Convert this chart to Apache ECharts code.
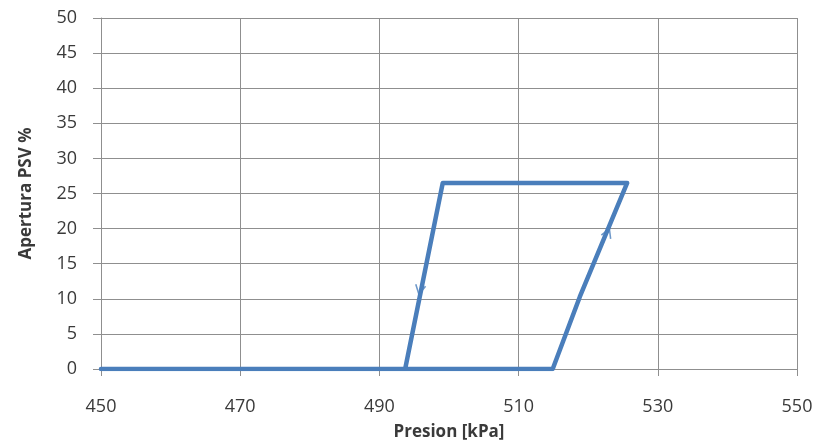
<!DOCTYPE html>
<html>
<head>
<meta charset="utf-8">
<script src="https://cdn.jsdelivr.net/npm/echarts@6/dist/echarts.min.js"></script>
<style>
  html, body { margin: 0; padding: 0; background: #fff; }
  #chart { width: 826px; height: 446px; }
</style>
</head>
<body>
<div id="chart"></div>
<script>
// Valve opening path (pressure kPa, opening %), traced as a hysteresis loop
const pressure = [450, 493.7, 499.1, 525.6, 518.8, 514.9, 493.7];
const opening  = [0,   0,     26.5,  26.5,  10.3,  0,     0];

// Direction markers on the rising and falling branches
const arrowDownAt = [495.8, 11.3];
const arrowUpAt   = [522.8, 19.4];

const xTicks = { min: 450, max: 550, step: 20 };
const yTicks = { min: 0, max: 50, step: 5 };

const lineColor = '#4a7ebb';
const gridColor = '#8f8f8f';
const textColor = '#3a3a3a';
const font = '"Open Sans", "Noto Sans", sans-serif';

const chart = echarts.init(document.getElementById('chart'));
chart.setOption({
  animation: false,
  backgroundColor: '#fff',
  grid: { left: 101, right: 29, top: 18, bottom: 77, containLabel: false },
  xAxis: {
    type: 'value',
    min: xTicks.min, max: xTicks.max, interval: xTicks.step,
    name: 'Presion [kPa]',
    nameLocation: 'middle',
    nameGap: 55,
    nameTextStyle: { fontFamily: font, fontSize: 17, fontWeight: 'bold', color: textColor },
    axisLine: { lineStyle: { color: gridColor, width: 1 } },
    axisTick: { show: true, length: 7, lineStyle: { color: gridColor } },
    axisLabel: { fontFamily: font, fontSize: 18, color: textColor, margin: 29 },
    splitLine: { show: true, lineStyle: { color: gridColor, width: 1 } }
  },
  yAxis: {
    type: 'value',
    min: yTicks.min, max: yTicks.max, interval: yTicks.step,
    name: 'Apertura PSV %',
    nameLocation: 'middle',
    nameGap: 66,
    nameTextStyle: { fontFamily: font, fontSize: 17, fontWeight: 'bold', color: textColor },
    axisLine: { show: true, lineStyle: { color: gridColor, width: 1 } },
    axisTick: { show: true, length: 8, lineStyle: { color: gridColor } },
    axisLabel: { fontFamily: font, fontSize: 18, color: textColor, margin: 24 },
    splitLine: { show: true, lineStyle: { color: gridColor, width: 1 } }
  },
  series: [
    {
      type: 'line',
      data: pressure.map((p, i) => [p, opening[i]]),
      showSymbol: false,
      lineStyle: { color: lineColor, width: 4.5, join: 'round', cap: 'round' },
      z: 3
    },
    {
      type: 'scatter',
      data: [arrowDownAt],
      symbol: 'path://M0,0 L5,8 L10,0',
      symbolSize: [10, 9],
      symbolRotate: -11.5,
      itemStyle: { color: 'none', borderColor: lineColor, borderWidth: 1.5 },
      z: 4
    },
    {
      type: 'scatter',
      data: [arrowUpAt],
      symbol: 'path://M0,8 L5,0 L10,8',
      symbolSize: [10, 9],
      symbolRotate: -22,
      itemStyle: { color: 'none', borderColor: lineColor, borderWidth: 1.5 },
      z: 4
    }
  ]
});
</script>
</body>
</html>
